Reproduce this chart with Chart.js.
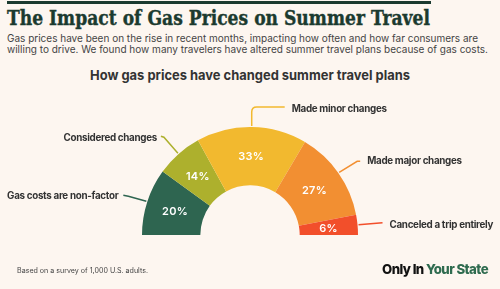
<!DOCTYPE html>
<html>
<head>
<meta charset="utf-8">
<script src="https://cdn.jsdelivr.net/npm/chart.js@4/dist/chart.umd.min.js"></script>
<style>
  html, body { margin: 0; padding: 0; }
  body { width: 500px; height: 289px; background: #fdf6f0; position: relative; overflow: hidden; font-family: Inter, "Noto Sans", sans-serif; }
  .t { position: absolute; white-space: nowrap; transform-origin: 0 50%; }
  #bar { position: absolute; left: 7px; top: 1px; width: 424px; height: 3px; background: #1b3a2f; }
  #title { left: 7px; top: 6px; font: bold 20px "DejaVu Serif", serif; color: #1b3a2f; -webkit-text-stroke: 0.4px #1b3a2f; }
  .sub { left: 7px; font-size: 10.5px; color: #444; }
  #ctitle { left: 90px; top: 67px; font-weight: 700; font-size: 13.5px; color: #333; }
  #foot { left: 17px; top: 266px; font-size: 7px; color: #444; }
  #logo { left: 382px; top: 261px; font-weight: 800; font-size: 13.5px; color: #111; letter-spacing: -0.6px; }
  #logo span { color: #2f6b4f; }
  canvas { position: absolute; left: 0; top: 0; }
</style>
</head>
<body>
<div id="bar"></div>
<div class="t" id="title" data-w="423">The Impact of Gas Prices on Summer Travel</div>
<div class="t sub" style="top:32px" data-w="471">Gas prices have been on the rise in recent months, impacting how often and how far consumers are</div>
<div class="t sub" style="top:43px" data-w="481">willing to drive. We found how many travelers have altered summer travel plans because of gas costs.</div>
<div class="t" id="ctitle" data-w="320">How gas prices have changed summer travel plans</div>
<canvas id="chart" width="500" height="289"></canvas>
<div class="t" id="foot" data-w="131">Based on a survey of 1,000 U.S. adults.</div>
<div class="t" id="logo" data-w="106">Only In <span>Your State</span></div>
<script>
// chart data
const categories = ['Gas costs are non-factor', 'Considered changes', 'Made minor changes', 'Made major changes', 'Canceled a trip entirely'];
const shares = [20, 14, 33, 27, 6];
const colors = ['#2e6550', '#adb02d', '#f2b92f', '#f28f32', '#f24f2b'];

// leader line shapes, relative to the outer edge of each slice
const leaders = [
    { pts: [[-18, -5], [-23, -6]], text: [-28, -5], align: 'right' },
    { pts: [[-14, -16], [-17, -17]], text: [-21, -15], align: 'right' },
    { pts: [[0, -14], [5, -19], [33, -19]], text: [40, -17], align: 'left' },
    { pts: [[18, -11], [21, -11]], text: [28, -11], align: 'left' },
    { pts: [[24, -2]], text: [31, 0], align: 'left' }
];

// squeeze text blocks to the measured widths
function fitText() {
    document.querySelectorAll('[data-w]').forEach(el => {
        const w = el.getBoundingClientRect().width;
        const target = parseFloat(el.dataset.w);
        el.style.transform = 'scaleX(' + (target / w) + ')';
    });
}

const labelPlugin = {
    id: 'labels',
    afterDatasetsDraw(chart) {
        const ctx = chart.ctx;
        const meta = chart.getDatasetMeta(0);
        meta.data.forEach((arc, i) => {
            const p = arc.getProps(['x', 'y', 'startAngle', 'endAngle', 'innerRadius', 'outerRadius'], true);
            const mid = (p.startAngle + p.endAngle) / 2;
            const rm = (p.innerRadius + p.outerRadius) / 2;

            // value inside the slice
            ctx.save();
            ctx.fillStyle = '#fff';
            ctx.font = '600 11px Inter, sans-serif';
            ctx.letterSpacing = '0.3px';
            ctx.textAlign = 'center';
            ctx.textBaseline = 'middle';
            ctx.fillText(shares[i] + '%', p.x + Math.cos(mid) * rm, p.y + Math.sin(mid) * rm + 1);

            // leader line
            const ax = p.x + Math.cos(mid) * (p.outerRadius + 1);
            const ay = p.y + Math.sin(mid) * (p.outerRadius + 1);
            const l = leaders[i];
            ctx.strokeStyle = colors[i];
            ctx.lineWidth = 1.5;
            ctx.beginPath();
            ctx.moveTo(ax, ay);
            if (l.pts.length === 3) {
                ctx.lineTo(ax + l.pts[0][0], ay + l.pts[0][1]);
                ctx.quadraticCurveTo(ax, ay + l.pts[1][1], ax + l.pts[1][0], ay + l.pts[1][1]);
                ctx.lineTo(ax + l.pts[2][0], ay + l.pts[2][1]);
            } else {
                l.pts.forEach(q => ctx.lineTo(ax + q[0], ay + q[1]));
            }
            ctx.stroke();

            ctx.fillStyle = '#333';
            ctx.font = 'bold 9.8px Inter, sans-serif';
            ctx.letterSpacing = '-0.3px';
            ctx.textAlign = l.align;
            ctx.fillText(categories[i], ax + l.text[0], ay + l.text[1]);
            ctx.restore();
        });
    }
};

new Chart(document.getElementById('chart'), {
    type: 'doughnut',
    data: {
        labels: categories,
        datasets: [{
            data: shares,
            backgroundColor: colors,
            borderWidth: 0
        }]
    },
    options: {
        responsive: false,
        animation: false,
        rotation: -90,
        circumference: 180,
        cutout: '46%',
        layout: { padding: { left: 142, right: 142, top: 127, bottom: 54 } },
        plugins: { legend: { display: false }, tooltip: { enabled: false } }
    },
    plugins: [labelPlugin]
});

fitText();
</script>
</body>
</html>
